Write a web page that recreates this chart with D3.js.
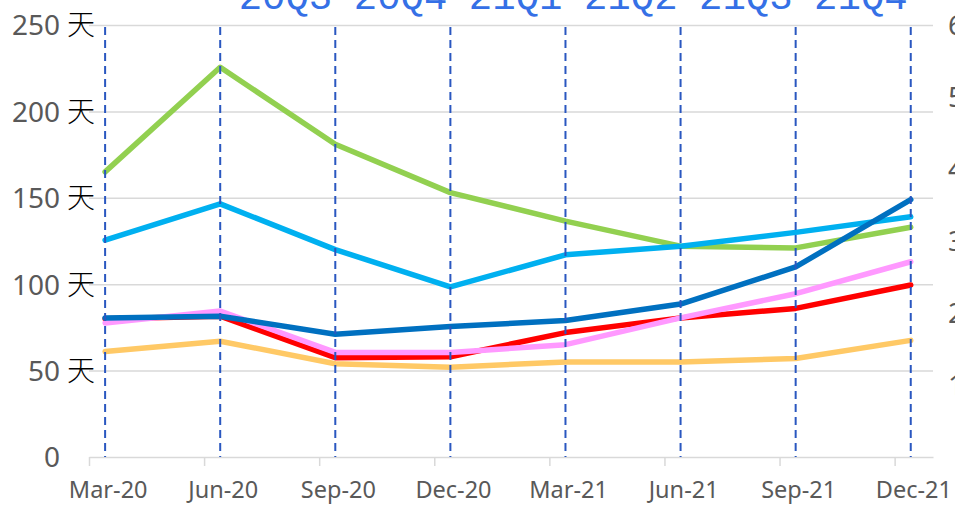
<!DOCTYPE html>
<html>
<head>
<meta charset="utf-8">
<script src="https://cdn.jsdelivr.net/npm/d3@7"></script>
<style>
  html, body { margin: 0; padding: 0; background: #fff; overflow: hidden; }
  svg { display: block; }
</style>
</head>
<body>
<svg class="line-chart"></svg>
<script>
// quarter ends, one point per quarter
const categories = ['Mar-20', 'Jun-20', 'Sep-20', 'Dec-20', 'Mar-21', 'Jun-21', 'Sep-21', 'Dec-21'];
const quarterLabels = ['20Q3', '20Q4', '21Q1', '21Q2', '21Q3', '21Q4'];
const leftTicks = [0, 50, 100, 150, 200, 250];
const rightTicks = [1, 2, 3, 4, 5, 6];

const orangeSeries    = [61, 67, 54, 52, 55, 55, 57, 67.5];
const redSeries       = [80, 81.5, 57.5, 58, 72, 80.5, 86, 99.5];
const pinkSeries      = [77.5, 84.5, 60.5, 60.5, 65, 80.5, 94.5, 113];
const greenSeries     = [165, 225.5, 181, 153, 136.5, 122, 121, 133];
const lightBlueSeries = [125.5, 146.5, 120, 98.5, 117, 122, 130, 139];
const darkBlueSeries  = [80.5, 81.5, 71, 75.5, 79, 88.5, 110, 149];

const series = [
    {values: orangeSeries, color: '#FFC966'},
    {values: redSeries, color: '#FF0000'},
    {values: pinkSeries, color: '#FF99FF'},
    {values: greenSeries, color: '#92D050'},
    {values: lightBlueSeries, color: '#00B0F0'},
    {values: darkBlueSeries, color: '#0070C0'}
];

const svgWidth = 955;
const svgHeight = 505;
const margin = {top: 25, right: 22, bottom: 48, left: 89};
const width = svgWidth - margin.left - margin.right;
const height = svgHeight - margin.top - margin.bottom;
const pointOffset = 0.42; // points sit a bit right of the month tick

const svg = d3.select('.line-chart')
    .attr('width', svgWidth)
    .attr('height', svgHeight);
const g = svg.append('g')
    .attr('transform', `translate(${margin.left}, ${margin.top})`);

// months since Mar-20
const x = d3.scaleLinear().domain([0, 22]).range([0, width]);
const y = d3.scaleLinear().domain([0, 250]).range([height, 0]);
const y2 = d3.scaleLinear().domain([0, 6]).range([height, 0]);
const px = (i) => x(i * 3 + pointOffset);

// gridlines
const grid = g.append('g')
    .call(d3.axisLeft(y).tickValues(leftTicks.slice(1)).tickSize(-width).tickFormat(''));
grid.select('.domain').remove();
grid.selectAll('line').attr('stroke', '#D9D9D9').attr('stroke-width', 1.5);

// x axis line + ticks
const xAxis = g.append('g')
    .attr('transform', `translate(0, ${height})`)
    .call(d3.axisBottom(x).tickValues(d3.range(0, 22, 3)).tickSize(9).tickSizeOuter(0).tickFormat(''));
xAxis.select('.domain').attr('stroke', '#D9D9D9').attr('stroke-width', 1.5);
xAxis.selectAll('line').attr('stroke', '#D9D9D9').attr('stroke-width', 1.5);

// x labels
g.append('g').selectAll('text')
    .data(categories)
    .join('text')
    .attr('x', (d, i) => x(i * 3 + 0.5))
    .attr('y', height + 41)
    .attr('text-anchor', 'middle')
    .attr('fill', '#595959')
    .attr('font-family', '"Noto Sans", sans-serif')
    .attr('font-size', 23.5)
    .text(d => d);

// left axis labels
const yAxis = g.append('g')
    .call(d3.axisLeft(y).tickValues(leftTicks).tickSize(0).tickPadding(29));
yAxis.select('.domain').remove();
yAxis.selectAll('text')
    .attr('fill', '#595959')
    .attr('font-family', '"Noto Sans", sans-serif')
    .attr('font-size', 28)
    .attr('dy', '0.35em');
yAxis.selectAll('.tick')
    .filter(d => d > 0)
    .append('text')
    .attr('x', -22)
    .attr('dy', '0.35em')
    .attr('text-anchor', 'start')
    .attr('fill', '#000')
    .attr('font-family', '"Noto Sans CJK TC", sans-serif')
    .attr('font-weight', 300)
    .attr('font-size', 28)
    .text('天');

// right axis labels (cut by the window edge, as in the source)
const yAxisRight = g.append('g')
    .attr('transform', `translate(${width}, 0)`)
    .call(d3.axisRight(y2).tickValues(rightTicks).tickSize(0).tickPadding(15));
yAxisRight.select('.domain').remove();
yAxisRight.selectAll('text')
    .attr('fill', '#595959')
    .attr('font-family', '"Noto Sans", sans-serif')
    .attr('font-size', 28)
    .attr('dy', '0.35em');

// series lines
const line = d3.line()
    .x((d, i) => px(i))
    .y(d => y(d));

g.append('g').selectAll('path')
    .data(series)
    .join('path')
    .attr('fill', 'none')
    .attr('stroke', d => d.color)
    .attr('stroke-width', 5.5)
    .attr('stroke-linejoin', 'round')
    .attr('stroke-linecap', 'round')
    .attr('d', d => line(d.values));

// dashed quarter markers
g.append('g').selectAll('line')
    .data(categories)
    .join('line')
    .attr('x1', (d, i) => px(i))
    .attr('x2', (d, i) => px(i))
    .attr('y1', 2)
    .attr('y2', height)
    .attr('stroke', '#2A57C0')
    .attr('stroke-width', 2)
    .attr('stroke-dasharray', '8,5');

// quarter labels across the top
svg.append('g').selectAll('text')
    .data(quarterLabels)
    .join('text')
    .attr('x', (d, i) => margin.left + px(i + 2) - 3)
    .attr('y', 9)
    .attr('text-anchor', 'end')
    .attr('fill', '#3570E6')
    .attr('font-family', '"Liberation Mono", monospace')
    .attr('font-size', 39)
    .text(d => d);
</script>
</body>
</html>
